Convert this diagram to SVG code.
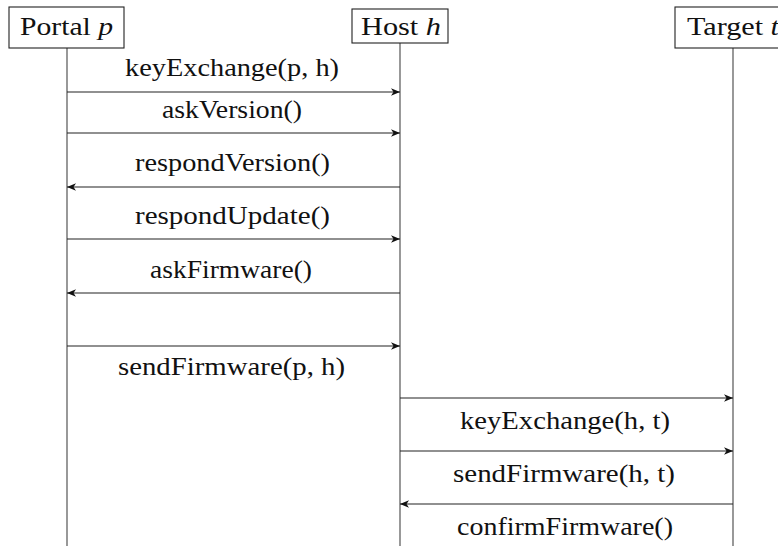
<svg xmlns="http://www.w3.org/2000/svg" width="778" height="546" viewBox="0 0 778 546">
  <style>
    text { font-family: "Liberation Serif", "Times New Roman", serif; font-size: 25px; fill: #111; text-anchor: middle; }
    .box { fill: #fff; stroke: #222; stroke-width: 1.1; }
    .life { stroke: #444; stroke-width: 1.1; fill: none; }
    .msg { stroke: #222; stroke-width: 1.1; fill: none; marker-end: url(#head); }
    .it { font-style: italic; }
  </style>
  <defs>
    <marker id="head" viewBox="-10 -5 12 10" refX="0" refY="0" markerWidth="12" markerHeight="10" markerUnits="userSpaceOnUse" orient="auto">
      <path d="M0,0 L-9,-3.8 L-6.5,0 L-9,3.8 Z" fill="#111"/>
    </marker>
  </defs>

  <!-- lifelines -->
  <g id="lifelines">
    <line class="life" x1="67" y1="48" x2="67" y2="546"/>
    <line class="life" x1="400" y1="43" x2="400" y2="546"/>
    <line class="life" x1="733" y1="48" x2="733" y2="546"/>
  </g>

  <!-- participants -->
  <g id="portal">
    <rect class="box" x="9" y="7" width="115" height="41"/>
    <text x="66.5" y="35" textLength="93" lengthAdjust="spacingAndGlyphs">Portal <tspan class="it">p</tspan></text>
  </g>
  <g id="host">
    <rect class="box" x="352" y="9" width="96" height="34"/>
    <text x="401" y="35" textLength="80" lengthAdjust="spacingAndGlyphs">Host <tspan class="it">h</tspan></text>
  </g>
  <g id="target">
    <rect class="box" x="675" y="7" width="120" height="41"/>
    <text x="733" y="35" textLength="92" lengthAdjust="spacingAndGlyphs">Target <tspan class="it">t</tspan></text>
  </g>

  <!-- messages -->
  <g id="connectors">
    <line class="msg" x1="67" y1="92" x2="400" y2="92"/>
    <line class="msg" x1="67" y1="133" x2="400" y2="133"/>
    <line class="msg" x1="400" y1="187" x2="67" y2="187"/>
    <line class="msg" x1="67" y1="239" x2="400" y2="239"/>
    <line class="msg" x1="400" y1="293" x2="67" y2="293"/>
    <line class="msg" x1="67" y1="346" x2="400" y2="346"/>
    <line class="msg" x1="400" y1="398" x2="733" y2="398"/>
    <line class="msg" x1="400" y1="451" x2="733" y2="451"/>
    <line class="msg" x1="733" y1="504" x2="400" y2="504"/>
  </g>

  <!-- message labels -->
  <g id="labels">
    <text x="232" y="76" textLength="214" lengthAdjust="spacingAndGlyphs">keyExchange(p, h)</text>
    <text x="232" y="118" textLength="140" lengthAdjust="spacingAndGlyphs">askVersion()</text>
    <text x="232.5" y="171" textLength="195" lengthAdjust="spacingAndGlyphs">respondVersion()</text>
    <text x="232.5" y="224" textLength="195" lengthAdjust="spacingAndGlyphs">respondUpdate()</text>
    <text x="231" y="278" textLength="162" lengthAdjust="spacingAndGlyphs">askFirmware()</text>
    <text x="231.5" y="375" textLength="227" lengthAdjust="spacingAndGlyphs">sendFirmware(p, h)</text>
    <text x="565" y="429" textLength="210" lengthAdjust="spacingAndGlyphs">keyExchange(h, t)</text>
    <text x="564" y="482" textLength="222" lengthAdjust="spacingAndGlyphs">sendFirmware(h, t)</text>
    <text x="565" y="535" textLength="216" lengthAdjust="spacingAndGlyphs">confirmFirmware()</text>
  </g>
</svg>
